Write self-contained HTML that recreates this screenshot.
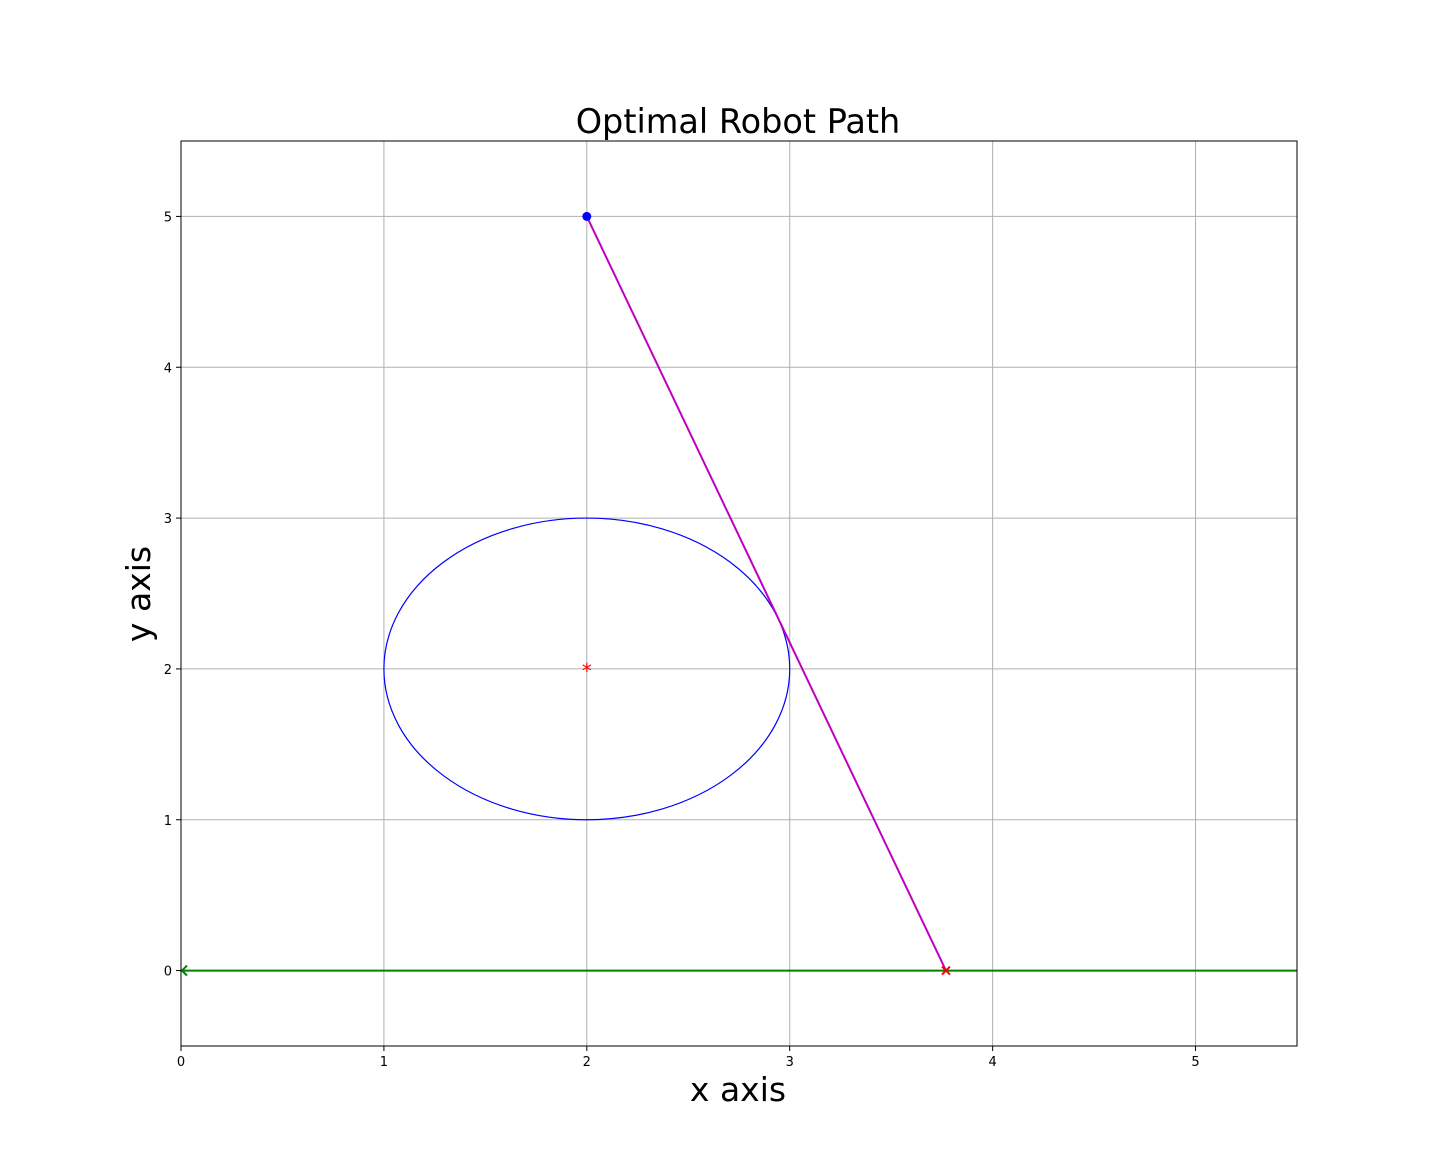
<!DOCTYPE html>
<html><head><meta charset="utf-8"><style>
html,body{margin:0;padding:0;background:#fff;}
svg{display:block;font-family:"DejaVu Sans","Liberation Sans",sans-serif;}
</style></head><body>
<svg id="chart" width="1441" height="1175" viewBox="0 0 1441 1175" xmlns="http://www.w3.org/2000/svg">
<rect width="1441" height="1175" fill="#fff"/>
<g id="grid"></g>
<g id="marks"></g>
<rect x="181" y="141" width="1116" height="905" fill="none" stroke="#000" stroke-width="1"/>
<g id="ticks"></g>
<text x="738" y="133" font-size="33.5" text-anchor="middle">Optimal Robot Path</text>
<text x="738" y="1101" font-size="33" text-anchor="middle">x axis</text>
<text transform="translate(150,594) rotate(-90)" font-size="33" text-anchor="middle">y axis</text>
</svg>
<script>
const xTicks = [0,1,2,3,4,5];
const yTicks = [0,1,2,3,4,5];
const startPoint = [2,5];
const circleCenter = [2,2];
const circleRadius = [1];
const pathX = [2,3.77];
const pathY = [5,0];
const groundX = [0,5.5];
const groundY = [0,0];
const goalPoint = [3.77,0];

const X0=181,X1=1297,Y0=1046,Y1=141,xmin=0,xmax=5.5,ymin=-0.5,ymax=5.5;
const sx=v=>X0+(v-xmin)/(xmax-xmin)*(X1-X0);
const sy=v=>Y0-(v-ymin)/(ymax-ymin)*(Y0-Y1);
const NS="http://www.w3.org/2000/svg";
function mk(tag,attrs,parent){const e=document.createElementNS(NS,tag);for(const k in attrs)e.setAttribute(k,attrs[k]);parent.appendChild(e);return e;}
const grid=document.getElementById('grid'),ticks=document.getElementById('ticks'),marks=document.getElementById('marks');
xTicks.forEach(t=>{
  const g=mk('line',{x1:sx(t),x2:sx(t),y1:Y1,y2:Y0,stroke:'#b0b0b0','stroke-width':1},grid);
  
  
  const tk=mk('line',{x1:sx(t),x2:sx(t),y1:Y0,y2:Y0+5,stroke:'#000'},ticks);
  
  
  const l=mk('text',{x:sx(t),y:Y0+20,'font-size':13,'text-anchor':'middle'},ticks);
  l.textContent=t;
  
  
});
yTicks.forEach(t=>{
  const g=mk('line',{x1:X0,x2:X1,y1:sy(t),y2:sy(t),stroke:'#b0b0b0','stroke-width':1},grid);
  
  
  const tk=mk('line',{x1:X0-5,x2:X0,y1:sy(t),y2:sy(t),stroke:'#000'},ticks);
  
  
  const l=mk('text',{x:X0-9,y:sy(t)+5,'font-size':13,'text-anchor':'end'},ticks);
  l.textContent=t;
  
  
});
const c=mk('ellipse',{cx:sx(circleCenter[0]),cy:sy(circleCenter[1]),rx:sx(circleRadius[0])-sx(0),ry:sy(0)-sy(circleRadius[0]),fill:'none',stroke:'#0000ff','stroke-width':1.2},marks);


const ct=mk('text',{x:sx(circleCenter[0]),y:sy(circleCenter[1])+9,'font-size':20,fill:'#f00','text-anchor':'middle'},marks);
ct.textContent='*';


const gl=mk('line',{x1:sx(groundX[0]),y1:sy(groundY[0]),x2:sx(groundX[1]),y2:sy(groundY[1]),stroke:'#008000','stroke-width':2},marks);


const gm=mk('path',{d:`M${sx(0)+6},${sy(0)-5} L${sx(0)+1},${sy(0)} L${sx(0)+6},${sy(0)+5}`,fill:'none',stroke:'#008000','stroke-width':2},marks);


const pl=mk('line',{x1:sx(pathX[0]),y1:sy(pathY[0]),x2:sx(pathX[1]),y2:sy(pathY[1]),stroke:'#bf00bf','stroke-width':2},marks);


const sp=mk('circle',{cx:sx(startPoint[0]),cy:sy(startPoint[1]),r:4.5,fill:'#0000ff'},marks);


const gx=sx(goalPoint[0]),gy=sy(goalPoint[1]);
const gp=mk('path',{d:`M${gx-4},${gy-4}L${gx+4},${gy+4}M${gx-4},${gy+4}L${gx+4},${gy-4}`,stroke:'#f00','stroke-width':2},marks);


</script>
</body></html>
